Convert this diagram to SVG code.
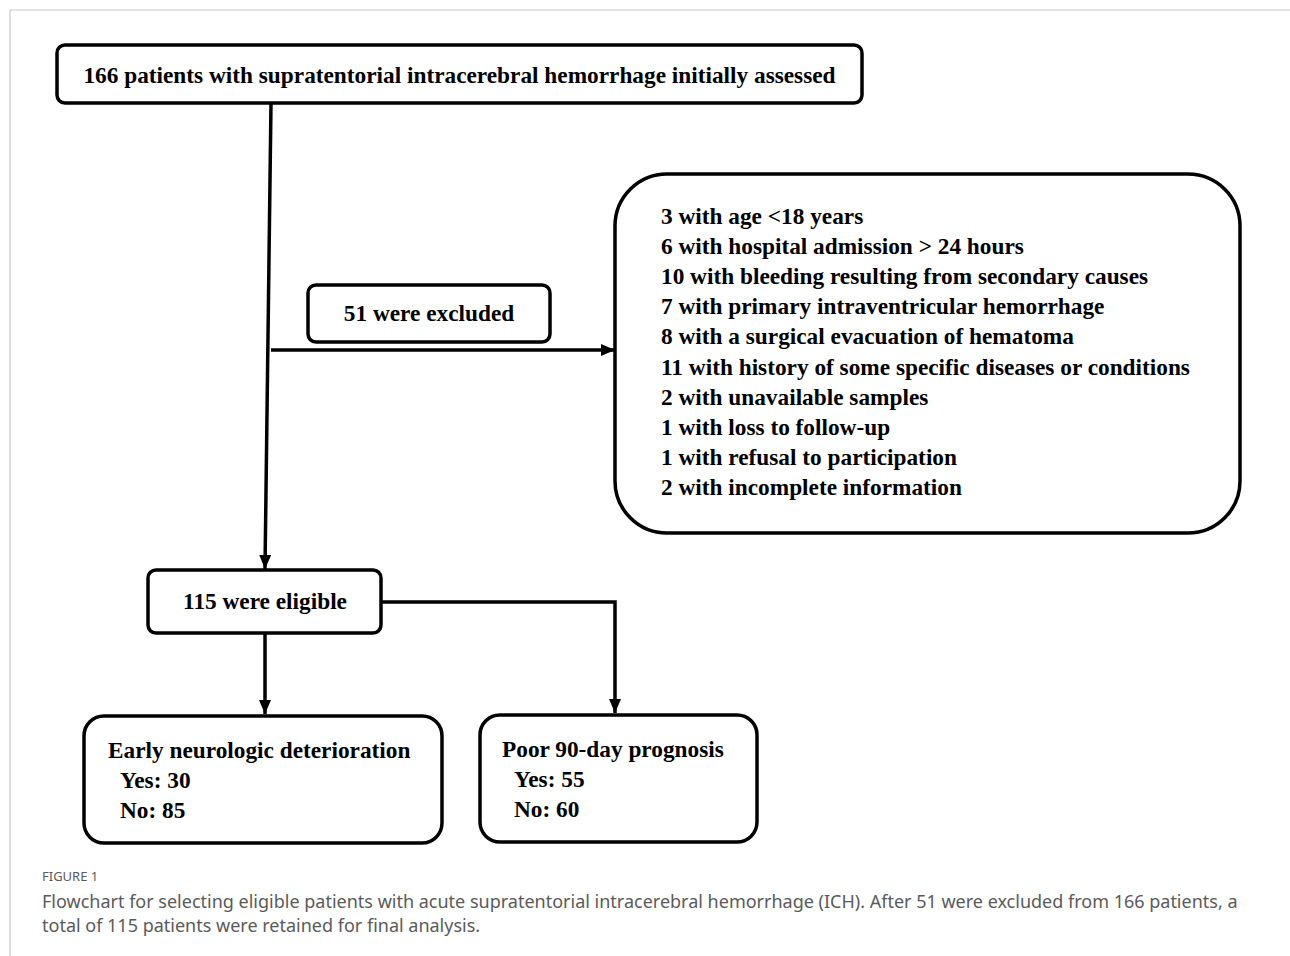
<svg xmlns="http://www.w3.org/2000/svg" width="1290" height="956" viewBox="0 0 1290 956">
<style>
.box{fill:#fff;stroke:#000;stroke-width:3.5}
.t{font-family:"Liberation Serif","Times New Roman",serif;font-weight:bold;font-size:23.3px;fill:#000}
.c{text-anchor:middle}
.conn{fill:none;stroke:#000;stroke-width:3.5}
.cap{font-family:"Noto Sans","Open Sans",sans-serif;fill:#5a5a5a}
</style>
<defs>
<marker id="ah" viewBox="0 0 14 12" refX="14" refY="6" markerWidth="14" markerHeight="12" markerUnits="userSpaceOnUse" orient="auto">
<path d="M0,0 L14,6 L0,12 z" fill="#000"/>
</marker>
</defs>
<rect width="1290" height="956" fill="#fff"/>
<path d="M10,956 V10 H1290" fill="none" stroke="#c8c8c8" stroke-width="1.2"/>
<g id="connectors">
<path class="conn" d="M271,103 L265,569" marker-end="url(#ah)"/>
<path class="conn" d="M271,350 H615" marker-end="url(#ah)"/>
<path class="conn" d="M265,633 V714" marker-end="url(#ah)"/>
<path class="conn" d="M381,602 H615 V713" marker-end="url(#ah)"/>
</g>
<g id="n-initial">
<rect class="box" x="57" y="45" width="805" height="58" rx="8"/>
<text class="t c" x="459.5" y="83">166 patients with supratentorial intracerebral hemorrhage initially assessed</text>
</g>
<g id="n-excluded">
<rect class="box" x="308" y="285" width="242" height="57" rx="8"/>
<text class="t c" x="429" y="321">51 were excluded</text>
</g>
<g id="n-reasons">
<rect class="box" x="615" y="174" width="625" height="359" rx="52"/>
<text class="t" x="661" y="224">3 with age &lt;18 years</text>
<text class="t" x="661" y="254">6 with hospital admission &gt; 24 hours</text>
<text class="t" x="661" y="284">10 with bleeding resulting from secondary causes</text>
<text class="t" x="661" y="314">7 with primary intraventricular hemorrhage</text>
<text class="t" x="661" y="344">8 with a surgical evacuation of hematoma</text>
<text class="t" x="661" y="375">11 with history of some specific diseases or conditions</text>
<text class="t" x="661" y="405">2 with unavailable samples</text>
<text class="t" x="661" y="435">1 with loss to follow-up</text>
<text class="t" x="661" y="465">1 with refusal to participation</text>
<text class="t" x="661" y="495">2 with incomplete information</text>
</g>
<g id="n-eligible">
<rect class="box" x="148" y="570" width="233" height="63" rx="8"/>
<text class="t c" x="265" y="609">115 were eligible</text>
</g>
<g id="n-end">
<rect class="box" x="84" y="716" width="358" height="127" rx="20"/>
<text class="t" x="108" y="758">Early neurologic deterioration</text>
<text class="t" x="120" y="788">Yes: 30</text>
<text class="t" x="120" y="818">No: 85</text>
</g>
<g id="n-poor">
<rect class="box" x="480" y="715" width="277" height="127" rx="20"/>
<text class="t" x="502" y="757">Poor 90-day prognosis</text>
<text class="t" x="514" y="787">Yes: 55</text>
<text class="t" x="514" y="817">No: 60</text>
</g>
<g id="caption">
<text class="cap" x="42" y="881" font-size="13">FIGURE 1</text>
<text class="cap" x="42" y="908" font-size="18">Flowchart for selecting eligible patients with acute supratentorial intracerebral hemorrhage (ICH). After 51 were excluded from 166 patients, a</text>
<text class="cap" x="42" y="932" font-size="18">total of 115 patients were retained for final analysis.</text>
</g>
</svg>
